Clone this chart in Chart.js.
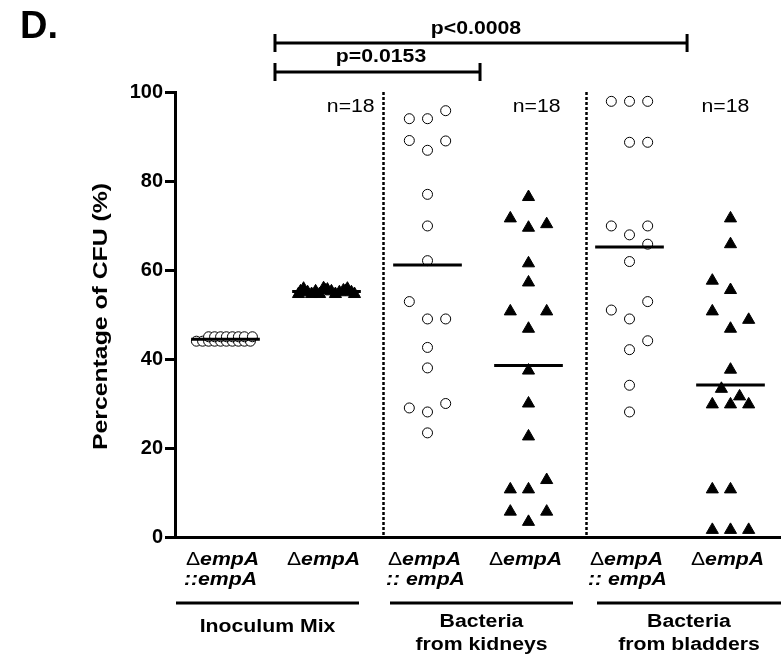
<!DOCTYPE html>
<html>
<head>
<meta charset="utf-8">
<script src="https://cdn.jsdelivr.net/npm/chart.js@4.4.0/dist/chart.umd.min.js"></script>
<style>
  html, body { margin: 0; padding: 0; background: #fff; }
  #wrap { width: 781px; height: 658px; }
</style>
</head>
<body>
<div id="wrap"><canvas id="cfuChart"></canvas></div>
<script>
const yTicks = [0, 20, 40, 60, 80, 100];
const strainLabels = ["::empA", "", ":: empA", "", ":: empA", ""];
const groupNames = [["Inoculum Mix"], ["Bacteria", "from kidneys"], ["Bacteria", "from bladders"]];
const pLabels = ["p<0.0008", "p=0.0153"];
const nLabels = ["n=18", "n=18", "n=18"];

// inoculum mix
const inocCompValues = [44.0, 44.0, 44.0, 44.0, 44.0, 44.0, 44.0, 44.0, 44.0, 44.0, 45.0, 45.0, 45.0, 45.0, 45.0, 45.0, 45.0, 45.0];
const inocCompSlots = [-1.6, -1.26, -0.93, -0.6, -0.27, 0.05, 0.38, 0.71, 1.04, 1.37, -0.93, -0.6, -0.27, 0.05, 0.38, 0.71, 1.04, 1.48];
const inocMutValues = [54.6, 55.8, 55.0, 54.6, 55.2, 54.6, 55.9, 55.6, 55.2, 54.6, 55.0, 55.4, 55.8, 55.0, 54.6, 55.2, 55.4, 55.3];
const inocMutSlots = [-1.54, -1.26, -1.04, -0.82, -0.6, -0.38, -0.16, 0.05, 0.27, 0.49, 0.71, 0.93, 1.15, 1.37, 1.54, -1.43, -0.05, 1.04];

// kidneys
const kidCompValues = [95.8, 94.0, 94.0, 89.1, 89.0, 86.9, 77.0, 69.9, 62.1, 52.9, 49.0, 49.0, 42.6, 38.0, 30.0, 29.0, 28.1, 23.4];
const kidCompSlots = [1, -1, 0, -1, 1, 0, 0, 0, 0, -1, 0, 1, 0, 0, 1, -1, 0, 0];
const kidMutValues = [76.4, 71.6, 70.3, 69.5, 61.5, 57.2, 50.7, 50.7, 46.8, 37.4, 30.0, 22.6, 12.8, 10.7, 10.7, 5.7, 5.7, 3.4];
const kidMutSlots = [0, -1, 1, 0, 0, 0, -1, 1, 0, 0, 0, 0, 1, -1, 0, -1, 1, 0];

// bladders
const bladCompValues = [97.9, 97.9, 97.9, 88.7, 88.7, 69.9, 69.9, 67.9, 65.8, 61.9, 52.9, 51.0, 49.0, 44.1, 42.1, 34.1, 28.1];
const bladCompSlots = [-1, 0, 1, 0, 1, -1, 1, 0, 1, 0, 1, -1, 0, 1, 0, 0, 0];
const bladMutValues = [71.6, 65.8, 57.6, 55.5, 50.7, 48.8, 46.8, 37.6, 33.3, 31.6, 29.8, 29.8, 29.8, 10.7, 10.7, 1.6, 1.6, 1.6];
const bladMutSlots = [0, 0, -1, 0, -1, 1, 0, 0, -0.5, 0.5, -1, 0, 1, -1, 0, -1, 0, 1];

const SLOT = 0.18;
const HALF_MEAN = 0.34;
const STRETCH = 1.18;

const series = [
  { g: 0, values: inocCompValues, slots: inocCompSlots, open: true },
  { g: 1, values: inocMutValues, slots: inocMutSlots, open: false },
  { g: 2, values: kidCompValues, slots: kidCompSlots, open: true },
  { g: 3, values: kidMutValues, slots: kidMutSlots, open: false },
  { g: 4, values: bladCompValues, slots: bladCompSlots, open: true },
  { g: 5, values: bladMutValues, slots: bladMutSlots, open: false },
];

function mean(arr) {
  return arr.reduce((s, v) => s + v, 0) / arr.length;
}

const datasets = [];
series.forEach((s) => {
  datasets.push({
    type: "scatter",
    data: s.values.map((v, i) => ({ x: s.g + s.slots[i] * SLOT, y: v })),
    pointStyle: s.open ? "circle" : "triangle",
    pointRadius: s.open ? 5 : 7,
    backgroundColor: s.open ? "#fff" : "#000",
    borderColor: "#000",
    borderWidth: 1,
    order: 1,
  });
  const m = mean(s.values);
  datasets.push({
    type: "line",
    data: [{ x: s.g - HALF_MEAN, y: m }, { x: s.g + HALF_MEAN, y: m }],
    borderColor: "#000",
    borderWidth: 3,
    pointRadius: 0,
    order: 0,
  });
});

function text(ctx, str, x, y, font, align, sx) {
  ctx.save();
  ctx.font = font;
  ctx.textBaseline = "middle";
  ctx.textAlign = "left";
  const w = ctx.measureText(str).width * sx;
  let left = x;
  if (align === "center") left = x - w / 2;
  if (align === "right") left = x - w;
  ctx.translate(left, y);
  ctx.scale(sx, 1);
  ctx.fillStyle = "#000";
  ctx.fillText(str, 0, 0);
  ctx.restore();
  return w;
}

function hline(ctx, x1, x2, y, w) {
  ctx.beginPath();
  ctx.moveTo(x1, y);
  ctx.lineTo(x2, y);
  ctx.lineWidth = w;
  ctx.stroke();
}

function vline(ctx, x, y1, y2, w) {
  ctx.beginPath();
  ctx.moveTo(x, y1);
  ctx.lineTo(x, y2);
  ctx.lineWidth = w;
  ctx.stroke();
}

const annotations = {
  id: "annotations",
  afterDraw(chart) {
    const { ctx, scales: { x, y } } = chart;
    const top = y.getPixelForValue(100);
    const bottom = y.getPixelForValue(0);
    ctx.save();
    ctx.strokeStyle = "#000";

    // dotted separators
    ctx.setLineDash([3, 2]);
    [1.56, 3.57].forEach((v) => vline(ctx, Math.round(x.getPixelForValue(v)) + 0.5, top, bottom, 2.5));
    ctx.setLineDash([]);

    // panel letter
    text(ctx, "D.", 20, 28, "bold 38px 'Liberation Sans', Arial", "left", 1);

    // y title
    ctx.save();
    ctx.translate(101, y.getPixelForValue(50) + 2);
    ctx.rotate(-Math.PI / 2);
    text(ctx, "Percentage of CFU (%)", 0, 0, "bold 21px 'Liberation Sans', Arial", "center", STRETCH);
    ctx.restore();

    // significance brackets
    const bx0 = x.getPixelForValue(0.49);
    const b1 = x.getPixelForValue(4.57);
    const b2 = x.getPixelForValue(2.52);
    hline(ctx, bx0, b1, 43, 3);
    vline(ctx, bx0, 34, 52, 3);
    vline(ctx, b1, 34, 52, 3);
    hline(ctx, bx0, b2, 72, 3);
    vline(ctx, bx0, 63, 81, 3);
    vline(ctx, b2, 63, 81, 3);
    const pFont = "bold 18px 'Liberation Sans', Arial";
    text(ctx, pLabels[0], x.getPixelForValue(2.48), 29, pFont, "center", STRETCH);
    text(ctx, pLabels[1], x.getPixelForValue(1.54), 57, pFont, "center", STRETCH);

    // n labels
    const nFont = "18px 'Liberation Sans', Arial";
    [1.24, 3.08, 4.95].forEach((v, i) => text(ctx, nLabels[i], x.getPixelForValue(v), 107, nFont, "center", STRETCH));

    // strain labels
    const deltaFont = "18px 'Liberation Sans', Arial";
    const geneFont = "italic bold 18px 'Liberation Sans', Arial";
    strainLabels.forEach((second, g) => {
      ctx.font = deltaFont;
      const dw = ctx.measureText("\u0394").width * STRETCH;
      ctx.font = geneFont;
      const gw = ctx.measureText("empA").width * STRETCH;
      const cx = x.getPixelForValue(g) - 3;
      const left = cx - (dw + gw) / 2;
      text(ctx, "\u0394", left, 560, deltaFont, "left", STRETCH);
      text(ctx, "empA", left + dw, 560, geneFont, "left", STRETCH);
      if (second) text(ctx, second, left - 2, 580, geneFont, "left", STRETCH);
    });

    // group brackets and names
    const right = chart.chartArea.right;
    const spans = [[176, 359], [390, 573], [597, right]];
    const nameFont = "bold 18px 'Liberation Sans', Arial";
    spans.forEach((s, i) => {
      hline(ctx, s[0], s[1], 603, 3);
      const cx = (s[0] + s[1]) / 2;
      const lines = groupNames[i];
      if (lines.length === 1) {
        text(ctx, lines[0], cx, 627, nameFont, "center", STRETCH);
      } else {
        text(ctx, lines[0], cx, 622, nameFont, "center", STRETCH);
        text(ctx, lines[1], cx, 645, nameFont, "center", STRETCH);
      }
    });
    ctx.restore();
  },
};

new Chart(document.getElementById("cfuChart"), {
  type: "scatter",
  data: { datasets },
  options: {
    responsive: true,
    maintainAspectRatio: false,
    animation: false,
    layout: { autoPadding: false, padding: { top: 92, bottom: 121, left: 0, right: 0 } },
    plugins: {
      legend: { display: false },
      tooltip: { enabled: false },
    },
    scales: {
      x: {
        type: "linear",
        min: -0.5,
        max: 5.5,
        ticks: { display: false },
        grid: { display: false, drawTicks: false },
        border: { display: true, color: "#000", width: 3 },
      },
      y: {
        min: 0,
        max: 100,
        afterFit: (s) => { s.width = 175; },
        afterBuildTicks: (s) => { s.ticks = yTicks.map((v) => ({ value: v })); },
        ticks: {
          color: "#000",
          padding: 2,
          font: { family: "'Liberation Sans', Arial", size: 20, weight: "bold" },
        },
        grid: {
          display: true,
          drawOnChartArea: false,
          drawTicks: true,
          tickLength: 10,
          color: "#000",
          lineWidth: 3,
        },
        border: { display: true, color: "#000", width: 3 },
      },
    },
  },
  plugins: [annotations],
});
</script>
</body>
</html>
